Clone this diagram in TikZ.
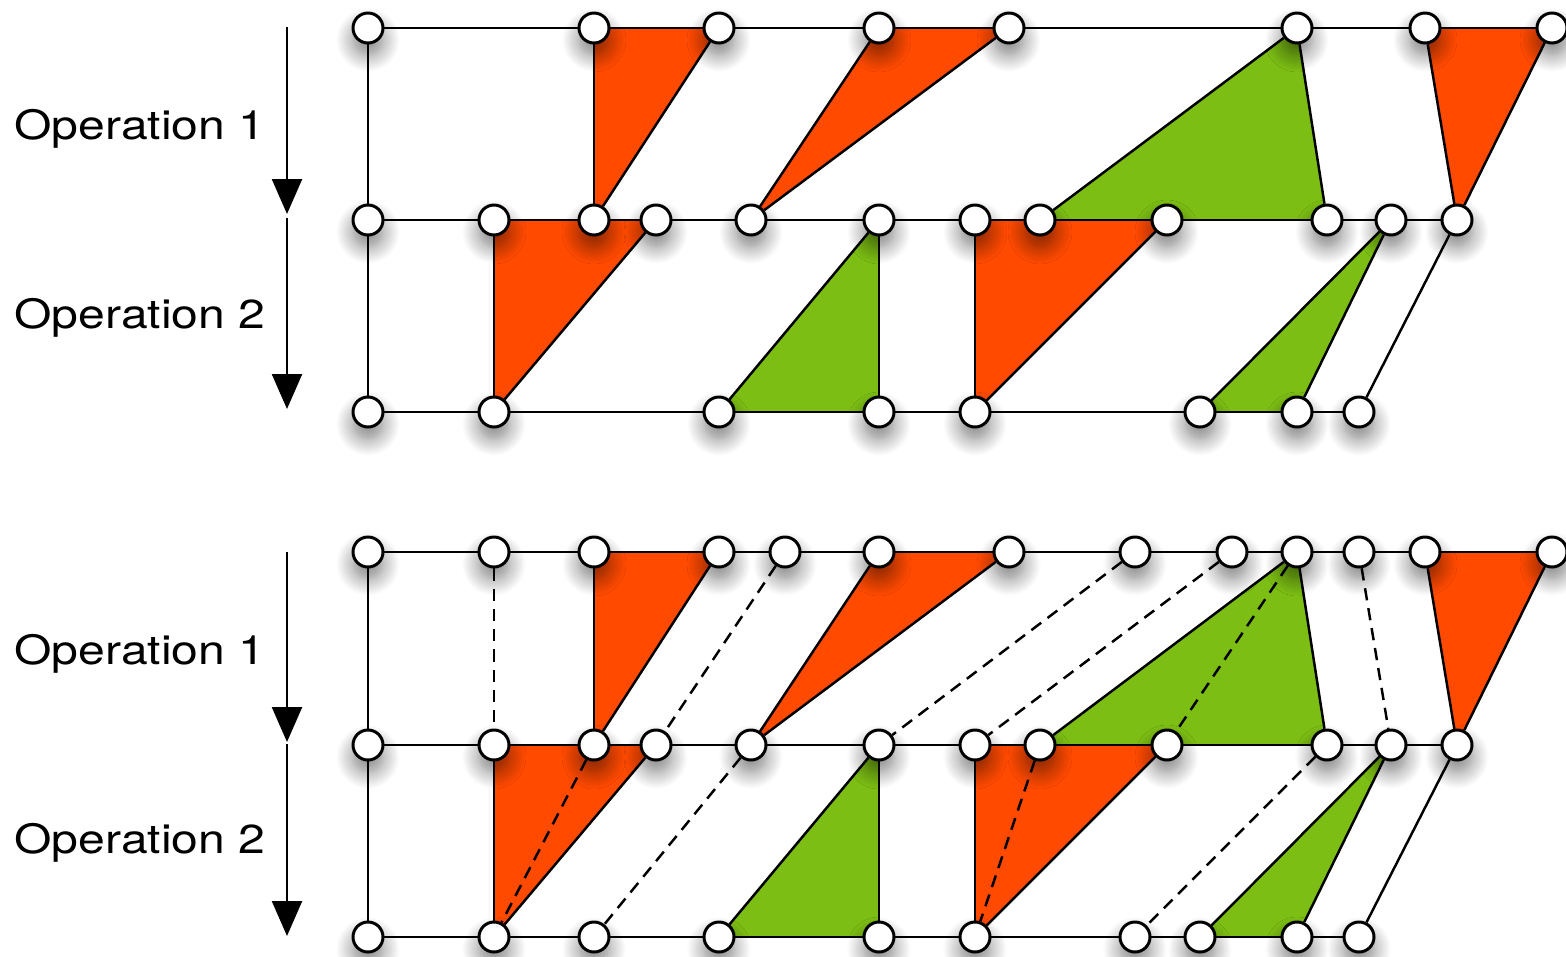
\documentclass[tikz,border=0pt]{standalone}
\usepackage{fontspec}
\setmainfont{TeX Gyre Heros}
\usetikzlibrary{arrows.meta,shadows.blur}
\definecolor{redf}{RGB}{255,74,0}
\definecolor{greenf}{RGB}{124,190,20}
\pgfdeclarelayer{bg}
\pgfdeclarelayer{mid}
\pgfsetlayers{bg,mid,main}
\begin{document}
\begin{tikzpicture}[x=0.02cm,y=-0.02cm,
  pt/.style={circle,draw=black,fill=white,line width=1.7pt,minimum size=0.6cm,inner sep=0pt,
    blur shadow={shadow xshift=0pt,shadow yshift=-0.24cm,shadow blur radius=0.34cm,shadow blur steps=14,shadow opacity=50}},
  edge/.style={line width=1.4pt},
  dsh/.style={line width=1.4pt,dash pattern=on 7pt off 4.5pt},
  lbl/.style={font=\fontsize{23}{27}\selectfont,anchor=base west,xscale=1.19,transform shape,inner sep=0pt},
  oparrow/.style={line width=1.4pt,-{Triangle[length=0.7cm,width=0.6cm]}},
  redtri/.style={fill=redf},
  greentri/.style={fill=greenf}
]
\useasboundingbox (0,0) rectangle (1566,957);

% ---------- labels and arrows ----------
\node[lbl] (tl1) at (14,139) {Operation 1};
\node[lbl] (tl2) at (14,328) {Operation 2};
\node[lbl] (bl1) at (14,664) {Operation 1};
\node[lbl] (bl2) at (14,853) {Operation 2};
\coordinate (ta0) at (287,27);
\coordinate (ta1) at (287,214);
\coordinate (ta2) at (287,218);
\coordinate (ta3) at (287,409);
\coordinate (ba0) at (287,552);
\coordinate (ba1) at (287,742);
\coordinate (ba2) at (287,744);
\coordinate (ba3) at (287,936);
\draw[oparrow] (ta0) -- (ta1);
\draw[oparrow] (ta2) -- (ta3);
\draw[oparrow] (ba0) -- (ba1);
\draw[oparrow] (ba2) -- (ba3);

% ---------- top diagram nodes ----------
\foreach \x in {368,594,719,879,1009,1297,1425,1552} \node[pt] (tA\x) at (\x,28) {};
\foreach \x in {368,494,594,656,751,879,975,1040,1167,1327,1391,1457} \node[pt] (tB\x) at (\x,220) {};
\foreach \x in {368,494,719,879,975,1200,1297,1359} \node[pt] (tC\x) at (\x,412) {};

% ---------- bottom diagram nodes ----------
\foreach \x in {368,494,594,719,785,879,1009,1135,1232,1297,1359,1425,1552} \node[pt] (bA\x) at (\x,552) {};
\foreach \x in {368,494,594,656,751,879,975,1040,1167,1327,1391,1457} \node[pt] (bB\x) at (\x,745) {};
\foreach \x in {368,494,594,719,879,975,1135,1200,1297,1359} \node[pt] (bC\x) at (\x,937) {};

\foreach \p in {t,b}{
  \begin{pgfonlayer}{bg}
    \fill[redtri] (\p A594.center) -- (\p A719.center) -- (\p B594.center) -- cycle;
    \fill[redtri] (\p A879.center) -- (\p A1009.center) -- (\p B751.center) -- cycle;
    \fill[greentri] (\p A1297.center) -- (\p B1040.center) -- (\p B1327.center) -- cycle;
    \fill[redtri] (\p A1425.center) -- (\p A1552.center) -- (\p B1457.center) -- cycle;
    \fill[redtri] (\p B494.center) -- (\p B656.center) -- (\p C494.center) -- cycle;
    \fill[greentri] (\p B879.center) -- (\p C719.center) -- (\p C879.center) -- cycle;
    \fill[redtri] (\p B975.center) -- (\p B1167.center) -- (\p C975.center) -- cycle;
    \fill[greentri] (\p B1391.center) -- (\p C1200.center) -- (\p C1297.center) -- cycle;
  \end{pgfonlayer}
  \begin{pgfonlayer}{mid}
    \draw[edge] (\p A368.center) -- (\p A1552.center);
    \draw[edge] (\p B368.center) -- (\p B1457.center);
    \draw[edge] (\p C368.center) -- (\p C1359.center);
    \draw[edge] (\p A368) -- (\p B368);
    \draw[edge] (\p B368) -- (\p C368);
    \draw[edge] (\p A594) -- (\p B594);
    \draw[edge] (\p A719) -- (\p B594);
    \draw[edge] (\p A879) -- (\p B751);
    \draw[edge] (\p A1009) -- (\p B751);
    \draw[edge] (\p A1297) -- (\p B1040);
    \draw[edge] (\p A1297) -- (\p B1327);
    \draw[edge] (\p A1425) -- (\p B1457);
    \draw[edge] (\p A1552) -- (\p B1457);
    \draw[edge] (\p B494) -- (\p C494);
    \draw[edge] (\p B656) -- (\p C494);
    \draw[edge] (\p B879) -- (\p C719);
    \draw[edge] (\p B879) -- (\p C879);
    \draw[edge] (\p B975) -- (\p C975);
    \draw[edge] (\p B1167) -- (\p C975);
    \draw[edge] (\p B1391) -- (\p C1200);
    \draw[edge] (\p B1391) -- (\p C1297);
    \draw[edge] (\p B1457) -- (\p C1359);
  \end{pgfonlayer}
}

% ---------- dashed connectors (bottom diagram) ----------
\begin{pgfonlayer}{mid}
  \draw[dsh] (bA494) -- (bB494);
  \draw[dsh] (bA785) -- (bB656);
  \draw[dsh] (bB594) -- (bC494);
  \draw[dsh] (bB751) -- (bC594);
  \draw[dsh] (bA1135) -- (bB879);
  \draw[dsh] (bA1232) -- (bB975);
  \draw[dsh] (bA1297) -- (bB1167);
  \draw[dsh] (bA1359) -- (bB1391);
  \draw[dsh] (bB1040) -- (bC975);
  \draw[dsh] (bB1327) -- (bC1135);
\end{pgfonlayer}
\end{tikzpicture}
\end{document}
